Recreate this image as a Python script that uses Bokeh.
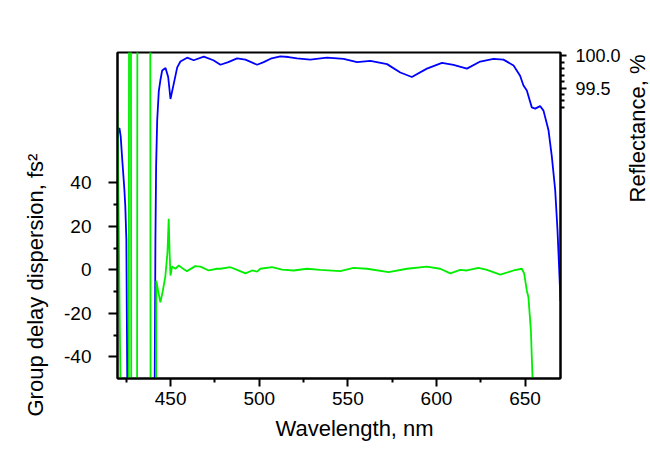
import math
from bokeh.plotting import figure
from bokeh.layouts import row
from bokeh.models import Range1d, LinearAxis, FixedTicker, Title, Label, PrintfTickFormatter
from bokeh.embed import file_html
from bokeh.resources import INLINE

# ---------------- data ----------------
wl_refl = [420.0, 420.6, 421.1, 421.8, 422.7, 423.9, 424.4, 425.0, 425.5, 426.2,
           440.5, 441.0, 441.4, 441.8, 442.4, 443.3, 444.2, 445.2, 447.1, 448.6,
           449.9, 451.7, 453.7, 455.5, 459.3, 463.0, 468.7, 474.1, 478.1, 482.5,
           487.5, 492.2, 498.8, 502.5, 507.0, 511.9, 516.5, 521.3, 528.8, 538.2,
           547.6, 555.2, 562.7, 572.1, 579.6, 586.1, 594.6, 603.1, 609.6, 617.2,
           624.7, 632.2, 637.8, 643.5, 647.2, 649.1, 651.0, 653.8, 655.7, 658.5,
           660.4, 663.2, 665.1, 667.0, 668.3, 669.4, 670.0]
reflectance = [98.72, 98.86, 98.88, 98.75, 98.38, 97.92, 97.67, 97.15, 95.0, 93.5,
               93.5, 95.0, 97.15, 98.3, 99.0, 99.45, 99.62, 99.77, 99.81, 99.67,
               99.33, 99.56, 99.82, 99.91, 99.97, 99.93, 99.985, 99.93, 99.86, 99.90,
               99.96, 99.94, 99.86, 99.90, 99.96, 99.99, 99.98, 99.96, 99.94, 99.97,
               99.95, 99.90, 99.92, 99.87, 99.74, 99.67, 99.80, 99.89, 99.86, 99.80,
               99.91, 99.95, 99.94, 99.85, 99.69, 99.54, 99.46, 99.20, 99.18, 99.22,
               99.15, 98.85, 98.44, 97.92, 97.30, 96.60, 96.20]

wl_gdd = [420.0, 420.6, 421.2, 421.8, 422.5, 424.0, 426.1, 426.7, 427.4, 428.0,
          430.8, 431.4, 438.3, 438.9, 441.3, 441.9, 443.0, 444.2, 445.5, 447.0,
          448.2, 448.9, 449.4, 449.9, 450.8, 452.7, 454.6, 456.4, 459.2, 463.9,
          466.8, 471.5, 476.2, 478.1, 483.7, 487.5, 492.2, 496.0, 498.8, 500.6,
          507.2, 512.9, 519.4, 527.0, 534.5, 545.7, 553.2, 560.8, 573.0, 583.4,
          594.6, 602.1, 607.8, 613.4, 617.2, 623.7, 628.5, 636.0, 643.5, 648.2,
          649.5, 651.0, 651.9, 653.3, 654.2, 656.0]
gdd = [73, 30, -20, -60, -200, -300, -300, 300, 300, -300,
       -300, 300, 300, -300, -300, -5, -10, -15, -10, -3,
       8, 23.5, 8, -2.6, 1.5, 0.5, 2.0, 0.9, -0.6, 1.7,
       1.5, -0.3, 0.5, 0.5, 1.2, 0.0, -1.6, -0.3, -0.8, 0.5,
       1.2, 0.1, -0.3, 0.5, 0.0, -0.6, 0.9, 0.5, -1.1, 0.5,
       1.5, 0.5, -1.6, 0.0, -0.3, 0.9, 0.0, -2.2, -0.3, 0.5,
       -1.7, -9.6, -12.6, -28, -49.6, -120]

x_ticks = [450, 500, 550, 600, 650]
x_minor = [425, 475, 525, 575, 625]
gdd_ticks = [-40, -20, 0, 20, 40]
gdd_minor = [-30, -10, 10, 30]
refl_ticks = [99.5, 100.0]
refl_minor = [99.2, 99.3, 99.4, 99.6, 99.7, 99.8, 99.9]

x_title = "Wavelength, nm"
gdd_title = "Group delay dispersion, fs\u00b2"
refl_title = "Reflectance, %"

FONT = "Liberation Sans"

p = figure(width=626, height=453,
           x_range=Range1d(420, 670), y_range=Range1d(-50, 100),
           output_backend="svg", toolbar_location=None,
           min_border_left=117, min_border_right=66,
           min_border_top=52, min_border_bottom=75)
p.extra_y_ranges = {"refl": Range1d(95.0, 100.05)}
p.grid.visible = False
p.outline_line_color = "black"
p.outline_line_width = 2
p.outline_line_alpha = 1.0
p.background_fill_color = "white"
p.border_fill_color = "white"

ra = LinearAxis(y_range_name="refl")
p.add_layout(ra, "right")

p.line(wl_refl, reflectance, y_range_name="refl", line_color="#0000ff", line_width=1.8)
p.line(wl_gdd, gdd, line_color="#00ee00", line_width=1.8)

xa = p.below[0]
la = p.left[0]

xa.ticker = FixedTicker(ticks=x_ticks, minor_ticks=x_minor)
la.ticker = FixedTicker(ticks=gdd_ticks, minor_ticks=gdd_minor)
ra.ticker = FixedTicker(ticks=refl_ticks, minor_ticks=refl_minor)
xa.formatter = PrintfTickFormatter(format="%d")
la.formatter = PrintfTickFormatter(format="%d")
ra.formatter = PrintfTickFormatter(format="%.1f")

for ax in (xa, la, ra):
    ax.axis_line_color = "black"
    ax.axis_line_width = 2
    ax.major_tick_line_color = "black"
    ax.minor_tick_line_color = "black"
    ax.major_tick_line_width = 2
    ax.minor_tick_line_width = 2
    ax.major_tick_in = 0
    ax.minor_tick_in = 0
    ax.major_tick_out = 8
    ax.minor_tick_out = 4
    ax.major_label_text_font = FONT
    ax.major_label_text_font_size = "19px"
    ax.major_label_text_color = "black"

xa.major_label_standoff = 5
la.major_tick_out = 9
la.major_label_standoff = 17
ra.major_tick_out = 6
ra.major_label_standoff = 9
ra.major_label_text_font_size = "18px"

tstyle = dict(text_font=FONT, text_font_size="22px", text_font_style="normal",
              text_color="black", align="left")
p.add_layout(Title(text=x_title, offset=158, standoff=16, vertical_align="top",
                   **tstyle), "below")
p.add_layout(Title(text=gdd_title, offset=-38, standoff=28, **tstyle), "left")

# narrow strip to the right holding the reflectance title (reads upward)
p2 = figure(width=24, height=453, x_range=Range1d(0, 24), y_range=Range1d(453, 0),
            output_backend="svg", toolbar_location=None, title=None,
            min_border=0, min_border_left=0, min_border_right=0,
            min_border_top=0, min_border_bottom=0,
            x_axis_type=None, y_axis_type=None)
p2.outline_line_color = None
p2.background_fill_color = "white"
p2.border_fill_color = "white"
p2.add_layout(Label(x=10.5, y=105.6, angle=math.pi / 2, text=refl_title,
                    text_font=FONT, text_font_size="22px", text_color="black",
                    text_align="center", text_baseline="alphabetic"))

layout = row(p, p2, spacing=0)
open("out.html", "w").write(file_html(layout, INLINE))
